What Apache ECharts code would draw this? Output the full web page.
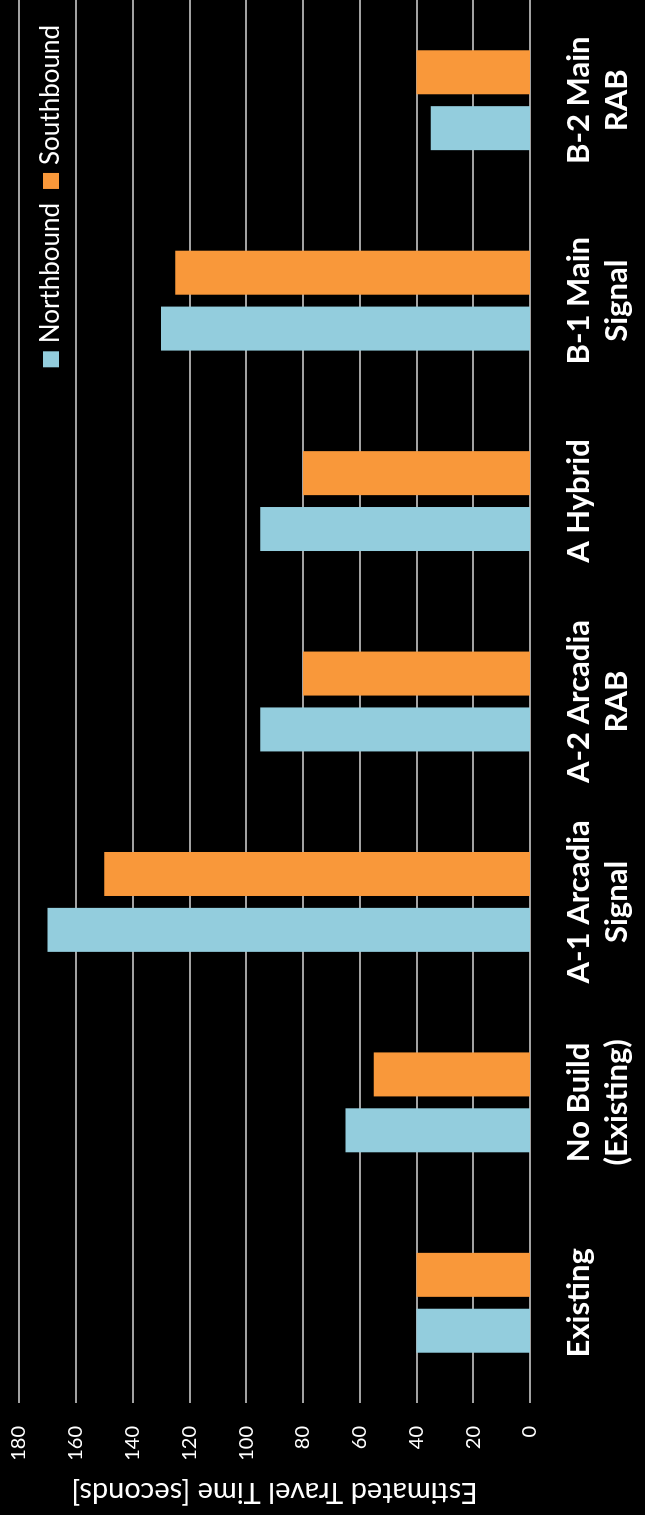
<!DOCTYPE html>
<html>
<head>
<meta charset="utf-8">
<script src="https://cdn.jsdelivr.net/npm/echarts@6/dist/echarts.min.js"></script>
<style>
html, body { margin: 0; padding: 0; background: #000; width: 645px; height: 1515px; overflow: hidden; }
#chart { position: absolute; left: 0; top: 0; width: 1515px; height: 645px;
  transform-origin: 0 0; transform: translate(0, 1515px) rotate(-90deg); }
</style>
</head>
<body>
<div id="chart"></div>
<script>
const categories = ["Existing", "No Build\n(Existing)", "A-1 Arcadia\nSignal", "A-2 Arcadia\nRAB", "A Hybrid", "B-1 Main\nSignal", "B-2 Main\nRAB"];
const northbound = [40, 65, 170, 95, 95, 130, 35];
const southbound = [40, 55, 150, 80, 80, 125, 40];
const seriesNames = ["Northbound", "Southbound"];
const axisTitle = "Estimated Travel Time [seconds]";

const FONT = "Lato, 'Open Sans', sans-serif";
const chart = echarts.init(document.getElementById('chart'), null, { renderer: 'canvas' });
chart.setOption({
  backgroundColor: '#000',
  animation: false,
  textStyle: { fontFamily: FONT },
  legend: {
    data: seriesNames,
    right: 25, top: 38, padding: 0,
    itemWidth: 16, itemHeight: 16, itemGap: 14,
    icon: 'rect',
    textStyle: { color: '#ffffff', fontSize: 26, fontFamily: FONT, padding: [0, 0, 0, 3] }
  },
  grid: { left: 108, right: 0, top: 19, bottom: 115, containLabel: false },
  xAxis: {
    type: 'category',
    data: categories,
    axisLine: { show: false },
    axisTick: { show: false },
    axisLabel: { color: '#ffffff', fontSize: 31, fontWeight: 'bold', fontFamily: FONT, lineHeight: 38, margin: 30, interval: 0 }
  },
  yAxis: {
    type: 'value',
    min: 0, max: 180, interval: 20,
    name: axisTitle,
    nameLocation: 'middle',
    nameGap: 75,
    nameTextStyle: { color: '#ffffff', fontSize: 29, fontFamily: FONT },
    axisLine: { show: false },
    axisTick: { show: false },
    axisLabel: { color: '#ffffff', fontSize: 20, fontFamily: FONT, margin: 23 },
    splitLine: { lineStyle: { color: '#d9d9d9', width: 1.5 } }
  },
  series: [
    { name: seriesNames[0], type: 'bar', data: northbound, barWidth: 44, barGap: '27%', itemStyle: { color: '#93CDDD' } },
    { name: seriesNames[1], type: 'bar', data: southbound, barWidth: 44, itemStyle: { color: '#F9983A' } }
  ]
});
</script>
</body>
</html>
